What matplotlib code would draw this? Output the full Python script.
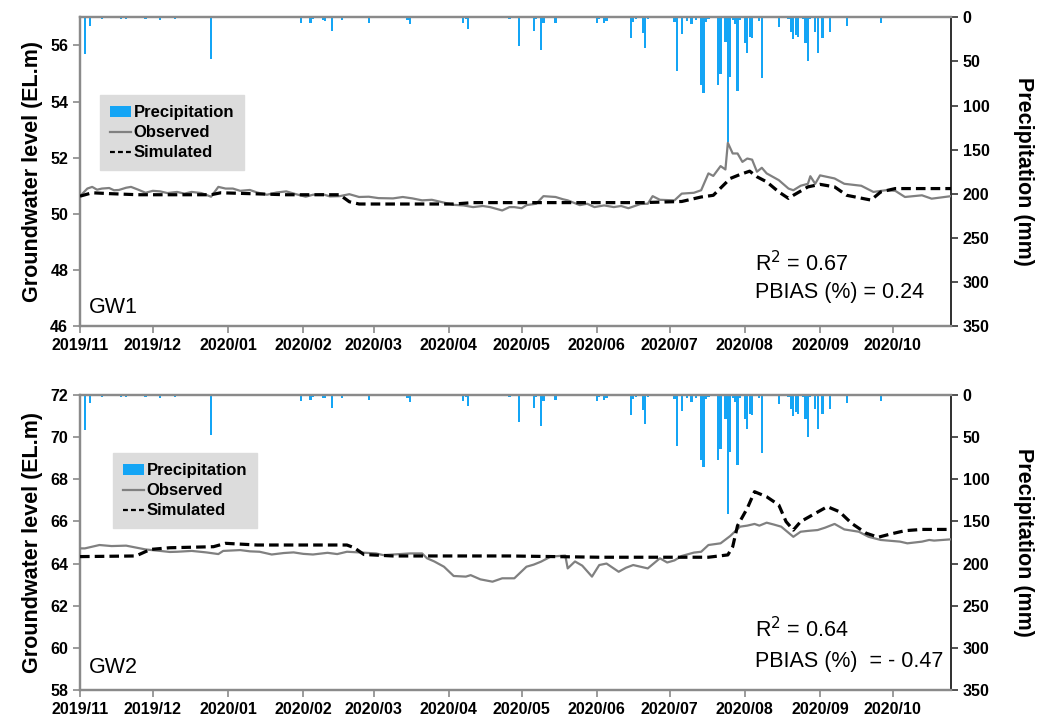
import numpy as np
import pandas as pd
import matplotlib
matplotlib.use('Agg')
import matplotlib.pyplot as plt
import matplotlib.dates as mdates
from matplotlib.patches import Patch
from matplotlib.lines import Line2D

plt.rcParams['font.family'] = ['Liberation Sans', 'DejaVu Sans']

# daily precipitation (mm), same gauge for both wells
precip_dates = ['2019-11-01', '2019-11-03', '2019-11-05', '2019-11-10', '2019-11-18', '2019-11-20',
                '2019-11-21', '2019-11-28', '2019-12-01', '2019-12-04', '2019-12-10', '2019-12-13',
                '2019-12-25', '2020-01-07', '2020-01-16', '2020-01-24', '2020-01-31', '2020-02-04',
                '2020-02-05', '2020-02-09', '2020-02-10', '2020-02-13', '2020-02-17', '2020-02-28',
                '2020-03-15', '2020-03-16', '2020-04-07', '2020-04-08', '2020-04-09', '2020-04-26',
                '2020-04-30', '2020-05-03', '2020-05-06', '2020-05-07', '2020-05-09', '2020-05-10',
                '2020-05-15', '2020-05-23', '2020-06-01', '2020-06-02', '2020-06-04', '2020-06-05',
                '2020-06-15', '2020-06-16', '2020-06-17', '2020-06-20', '2020-06-21', '2020-06-22',
                '2020-06-25', '2020-07-02', '2020-07-03', '2020-07-04', '2020-07-06', '2020-07-08',
                '2020-07-10', '2020-07-12', '2020-07-14', '2020-07-15', '2020-07-16', '2020-07-17',
                '2020-07-19', '2020-07-21', '2020-07-22', '2020-07-24', '2020-07-25', '2020-07-26',
                '2020-07-27', '2020-07-28', '2020-07-29', '2020-07-30', '2020-08-01', '2020-08-02',
                '2020-08-03', '2020-08-04', '2020-08-07', '2020-08-08', '2020-08-15', '2020-08-19',
                '2020-08-20', '2020-08-21', '2020-08-22', '2020-08-23', '2020-08-25', '2020-08-26',
                '2020-08-27', '2020-08-28', '2020-08-30', '2020-08-31', '2020-09-02', '2020-09-05',
                '2020-09-09', '2020-09-12', '2020-09-26']
precip_mm = [5, 42, 10, 2, 2, 2,
             1, 2, 1, 3, 2, 1,
             47, 1, 1, 1, 7, 6,
             2, 3, 4, 15, 3, 6,
             3, 8, 7, 2, 13, 2,
             32, 1, 15, 2, 37, 7,
             6, 1, 7, 2, 6, 4,
             24, 5, 2, 18, 35, 2,
             1, 1, 5, 61, 18.5, 4,
             8, 3.5, 77, 86, 5, 2,
             1, 77, 64, 28, 141, 67.5,
             3, 8, 83, 3, 29, 40,
             22, 24, 4, 69, 11, 2,
             16.6, 25, 20, 22, 2, 29,
             49.5, 2, 17, 40, 23, 17,
             1, 10, 7]

# GW1
gw1_obs_dates = ['2019-11-01', '2019-11-04', '2019-11-06', '2019-11-08', '2019-11-10', '2019-11-13',
                 '2019-11-15', '2019-11-17', '2019-11-20', '2019-11-22', '2019-11-25', '2019-11-28',
                 '2019-12-01', '2019-12-04', '2019-12-07', '2019-12-11', '2019-12-14', '2019-12-17',
                 '2019-12-21', '2019-12-25', '2019-12-28', '2019-12-31', '2020-01-03', '2020-01-06',
                 '2020-01-10', '2020-01-13', '2020-01-17', '2020-01-21', '2020-01-25', '2020-01-29',
                 '2020-02-02', '2020-02-05', '2020-02-09', '2020-02-12', '2020-02-16', '2020-02-20',
                 '2020-02-24', '2020-02-28', '2020-03-03', '2020-03-09', '2020-03-13', '2020-03-17',
                 '2020-03-21', '2020-03-25', '2020-03-29', '2020-04-03', '2020-04-07', '2020-04-11',
                 '2020-04-15', '2020-04-18', '2020-04-23', '2020-04-26', '2020-04-28', '2020-05-01',
                 '2020-05-03', '2020-05-07', '2020-05-10', '2020-05-15', '2020-05-18', '2020-05-20',
                 '2020-05-25', '2020-05-28', '2020-05-31', '2020-06-04', '2020-06-08', '2020-06-11',
                 '2020-06-14', '2020-06-19', '2020-06-22', '2020-06-24', '2020-06-27', '2020-07-03',
                 '2020-07-06', '2020-07-11', '2020-07-14', '2020-07-17', '2020-07-19', '2020-07-22',
                 '2020-07-24', '2020-07-25', '2020-07-27', '2020-07-29', '2020-07-31', '2020-08-02',
                 '2020-08-04', '2020-08-06', '2020-08-08', '2020-08-10', '2020-08-15', '2020-08-19',
                 '2020-08-21', '2020-08-24', '2020-08-27', '2020-08-28', '2020-08-30', '2020-09-01',
                 '2020-09-07', '2020-09-11', '2020-09-18', '2020-09-23', '2020-09-28', '2020-10-02',
                 '2020-10-06', '2020-10-13', '2020-10-17', '2020-10-25']
gw1_obs = [50.63, 50.90, 50.96, 50.86, 50.90, 50.92,
           50.84, 50.85, 50.93, 50.96, 50.86, 50.75,
           50.82, 50.80, 50.74, 50.78, 50.72, 50.78,
           50.74, 50.61, 50.96, 50.90, 50.90, 50.82,
           50.85, 50.76, 50.68, 50.76, 50.80, 50.70,
           50.61, 50.68, 50.70, 50.62, 50.63, 50.70,
           50.60, 50.61, 50.56, 50.55, 50.60, 50.55,
           50.48, 50.50, 50.42, 50.32, 50.30, 50.24,
           50.28, 50.24, 50.12, 50.24, 50.24, 50.20,
           50.31, 50.36, 50.63, 50.60, 50.52, 50.48,
           50.31, 50.36, 50.24, 50.30, 50.24, 50.28,
           50.20, 50.35, 50.36, 50.63, 50.50, 50.48,
           50.72, 50.75, 50.84, 51.44, 51.35, 51.70,
           51.58, 52.53, 52.15, 52.15, 51.85, 51.97,
           51.93, 51.50, 51.64, 51.44, 51.20, 50.90,
           50.84, 51.00, 51.07, 51.34, 51.07, 51.37,
           51.26, 51.07, 51.00, 50.78, 50.84, 50.82,
           50.60, 50.66, 50.54, 50.63]
gw1_sim_dates = ['2019-11-01', '2019-11-06', '2019-11-13', '2019-11-25', '2019-12-25', '2019-12-29',
                 '2020-01-25', '2020-02-16', '2020-02-20', '2020-02-24', '2020-04-03', '2020-04-11',
                 '2020-06-20', '2020-07-06', '2020-07-14', '2020-07-19', '2020-07-26', '2020-07-30',
                 '2020-08-03', '2020-08-06', '2020-08-10', '2020-08-15', '2020-08-19', '2020-08-21',
                 '2020-08-27', '2020-09-01', '2020-09-07', '2020-09-12', '2020-09-22', '2020-09-26',
                 '2020-10-02', '2020-10-25']
gw1_sim = [50.63, 50.75, 50.72, 50.68, 50.68, 50.75,
           50.68, 50.68, 50.43, 50.35, 50.35, 50.40,
           50.40, 50.44, 50.60, 50.66, 51.26, 51.40,
           51.52, 51.32, 51.14, 50.78, 50.55, 50.66,
           50.96, 51.05, 50.96, 50.66, 50.49, 50.78,
           50.90, 50.90]

# GW2
gw2_obs_dates = ['2019-11-01', '2019-11-03', '2019-11-09', '2019-11-14', '2019-11-20', '2019-11-24',
                 '2019-11-28', '2019-12-04', '2019-12-08', '2019-12-11', '2019-12-17', '2019-12-23',
                 '2019-12-28', '2019-12-30', '2020-01-06', '2020-01-10', '2020-01-14', '2020-01-19',
                 '2020-01-24', '2020-01-28', '2020-02-01', '2020-02-05', '2020-02-11', '2020-02-15',
                 '2020-02-19', '2020-02-24', '2020-03-02', '2020-03-05', '2020-03-09', '2020-03-16',
                 '2020-03-21', '2020-03-23', '2020-03-26', '2020-03-30', '2020-04-03', '2020-04-08',
                 '2020-04-10', '2020-04-14', '2020-04-19', '2020-04-23', '2020-04-28', '2020-05-03',
                 '2020-05-06', '2020-05-09', '2020-05-13', '2020-05-19', '2020-05-20', '2020-05-23',
                 '2020-05-26', '2020-05-30', '2020-06-02', '2020-06-05', '2020-06-10', '2020-06-13',
                 '2020-06-16', '2020-06-22', '2020-06-27', '2020-06-30', '2020-07-03', '2020-07-06',
                 '2020-07-11', '2020-07-14', '2020-07-17', '2020-07-22', '2020-07-26', '2020-07-30',
                 '2020-08-02', '2020-08-05', '2020-08-07', '2020-08-10', '2020-08-13', '2020-08-16',
                 '2020-08-21', '2020-08-24', '2020-08-27', '2020-08-31', '2020-09-03', '2020-09-07',
                 '2020-09-11', '2020-09-17', '2020-09-21', '2020-09-26', '2020-10-04', '2020-10-07',
                 '2020-10-13', '2020-10-16', '2020-10-18', '2020-10-25']
gw2_obs = [64.72, 64.72, 64.88, 64.83, 64.85, 64.76,
           64.67, 64.60, 64.55, 64.56, 64.60, 64.53,
           64.45, 64.60, 64.64, 64.58, 64.56, 64.43,
           64.50, 64.53, 64.46, 64.43, 64.51, 64.45,
           64.56, 64.53, 64.48, 64.40, 64.43, 64.48,
           64.48, 64.25, 64.10, 63.85, 63.41, 63.38,
           63.45, 63.25, 63.14, 63.30, 63.30, 63.85,
           63.95, 64.09, 64.33, 64.38, 63.77, 64.10,
           63.90, 63.38, 63.93, 64.00, 63.61, 63.80,
           63.93, 63.77, 64.25, 64.05, 64.15, 64.36,
           64.52, 64.56, 64.88, 64.96, 65.31, 65.75,
           65.80, 65.88, 65.80, 65.94, 65.85, 65.75,
           65.27, 65.51, 65.55, 65.59, 65.70, 65.88,
           65.62, 65.51, 65.27, 65.12, 65.04, 64.96,
           65.04, 65.12, 65.09, 65.15]
gw2_sim_dates = ['2019-11-01', '2019-11-24', '2019-11-30', '2019-12-08', '2019-12-26', '2019-12-31',
                 '2020-01-13', '2020-02-19', '2020-02-22', '2020-02-26', '2020-03-09', '2020-04-26',
                 '2020-06-02', '2020-07-17', '2020-07-25', '2020-07-27', '2020-07-29', '2020-08-02',
                 '2020-08-05', '2020-08-10', '2020-08-15', '2020-08-18', '2020-08-21', '2020-08-24',
                 '2020-08-30', '2020-09-04', '2020-09-09', '2020-09-14', '2020-09-20', '2020-09-25',
                 '2020-09-30', '2020-10-06', '2020-10-13', '2020-10-25']
gw2_sim = [64.33, 64.36, 64.67, 64.75, 64.80, 64.96,
           64.88, 64.88, 64.75, 64.43, 64.36, 64.36,
           64.30, 64.30, 64.41, 64.80, 65.80, 66.62,
           67.41, 67.17, 66.78, 65.99, 65.59, 65.99,
           66.38, 66.70, 66.46, 65.91, 65.44, 65.25,
           65.40, 65.56, 65.62, 65.62]

gw1_stats = ['R$^2$ = 0.67', 'PBIAS (%) = 0.24']
gw2_stats = ['R$^2$ = 0.64', 'PBIAS (%)  = - 0.47']

BLUE = '#14a5f5'
GRAY = '#808080'
SPINE = '#8a8a8a'


def panel(rect, name, obs_d, obs_v, sim_d, sim_v, ylim, stats, leg_xy, stat_y):
    ax = fig.add_axes(rect)
    ax2 = ax.twinx()
    ax.set_zorder(2)
    ax.patch.set_visible(False)

    ax.plot(pd.to_datetime(obs_d), obs_v, color=GRAY, lw=1.6, zorder=3)
    ax.plot(pd.to_datetime(sim_d), sim_v, color='black', lw=2.3, ls=(0, (3, 1.6)), zorder=4)
    ax2.bar(pd.to_datetime(precip_dates), precip_mm, width=0.9, color=BLUE, zorder=2)

    ax.set_ylim(*ylim)
    ax.set_yticks(np.arange(ylim[0], ylim[1] + 0.1, 2))
    ax2.set_ylim(350, 0)
    ax2.set_yticks(np.arange(0, 351, 50))
    ax.set_xlim(pd.Timestamp('2019-11-01'), pd.Timestamp('2020-10-25'))
    ax.xaxis.set_major_locator(mdates.MonthLocator())
    ax.xaxis.set_major_formatter(mdates.DateFormatter('%Y/%m'))

    for a in (ax, ax2):
        for s in ['left', 'bottom', 'top']:
            a.spines[s].set_color(SPINE)
            a.spines[s].set_linewidth(1.6)
        a.spines['right'].set_color('#333333')
        a.spines['right'].set_linewidth(1.3)
    ax.tick_params(axis='both', colors=SPINE, labelcolor='black', length=5, width=1.2,
                   labelsize=11.5)
    ax2.tick_params(axis='y', colors='#333333', labelcolor='black', length=5, width=1.2,
                    labelsize=11.5)
    for lab in ax.get_xticklabels() + ax.get_yticklabels() + ax2.get_yticklabels():
        lab.set_fontweight('bold')

    ax.set_ylabel('Groundwater level (EL.m)', fontsize=15.5, fontweight='bold', labelpad=5)
    ax2.set_ylabel('Precipitation (mm)', fontsize=15.5, fontweight='bold', rotation=270,
                   labelpad=32)

    ax.text(0.01, 0.06 if name == 'GW1' else 0.075, name, transform=ax.transAxes,
            fontsize=15.5, va='center', ha='left')
    ax.text(0.775, stat_y[0], stats[0], transform=ax.transAxes, fontsize=15.5, va='center')
    ax.text(0.775, stat_y[1], stats[1], transform=ax.transAxes, fontsize=15.5, va='center')

    handles = [Patch(facecolor=BLUE, edgecolor='none'),
               Line2D([], [], color=GRAY, lw=1.6),
               Line2D([], [], color='black', lw=1.6, ls=(0, (2.2, 1.4)))]
    leg = ax.legend(handles, ['Precipitation', 'Observed', 'Simulated'], loc='upper left',
                    bbox_to_anchor=leg_xy, borderaxespad=0, frameon=True, fancybox=False,
                    facecolor='#dcdcdc', edgecolor='#dcdcdc', framealpha=1,
                    handlelength=1.25, handleheight=0.6, handletextpad=0.15,
                    labelspacing=0.3, borderpad=0.6, prop={'weight': 'bold', 'size': 12})
    leg.set_zorder(10)
    return ax


fig = plt.figure(figsize=(10.45, 7.2), dpi=100)
panel([0.0766, 0.547, 0.8335, 0.429], 'GW1', gw1_obs_dates, gw1_obs, gw1_sim_dates, gw1_sim,
      (46, 57), gw1_stats, (0.023, 0.748), (0.204, 0.11))
panel([0.0766, 0.0417, 0.8335, 0.4097], 'GW2', gw2_obs_dates, gw2_obs, gw2_sim_dates, gw2_sim,
      (58, 72), gw2_stats, (0.038, 0.803), (0.203, 0.098))

fig.savefig('out.png', dpi=100)
